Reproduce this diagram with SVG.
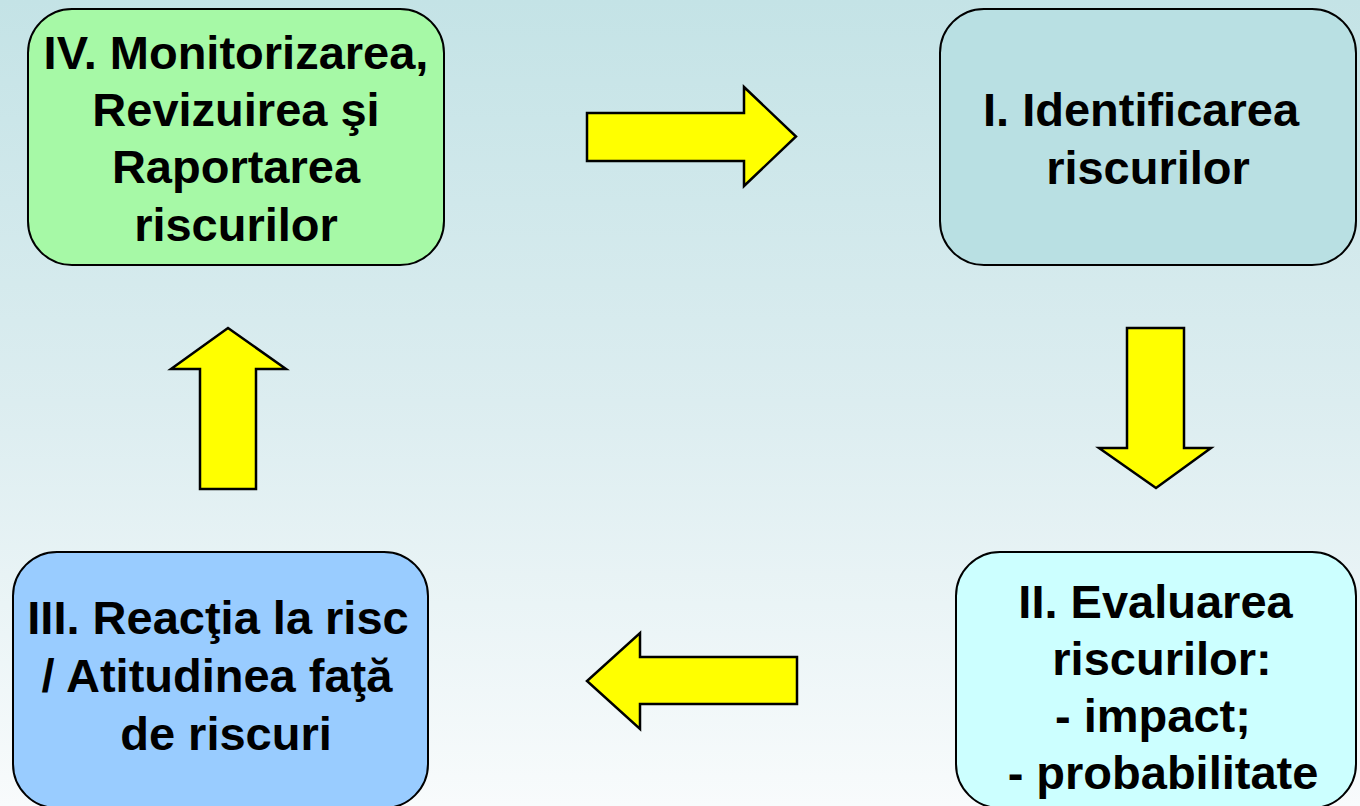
<svg xmlns="http://www.w3.org/2000/svg" width="1360" height="806" viewBox="0 0 1360 806">
<defs>
<linearGradient id="bg" x1="0" y1="0" x2="0" y2="1">
<stop offset="0" stop-color="#c4e3e6"/>
<stop offset="0.5" stop-color="#dcedf0"/>
<stop offset="1" stop-color="#f8fbfc"/>
</linearGradient>
<style>
.box{stroke:#000;stroke-width:2}
.arrow{fill:#ffff00;stroke:#000;stroke-width:2.5;stroke-linejoin:miter}
.t{font-family:"Liberation Sans",Arial,sans-serif;font-weight:bold;font-size:47px;fill:#000;text-anchor:middle}
</style>
</defs>
<rect width="1360" height="806" fill="url(#bg)"/>
<g id="connectors">
<path class="arrow" d="M587,113 H744 V87 L796,136.5 L744,186 V161 H587 Z"/>
<path class="arrow" d="M1127,328 H1184 V448 H1211 L1156,488 L1099,448 H1127 Z"/>
<path class="arrow" d="M797,657 H640 V633 L587,681 L640,729 V704 H797 Z"/>
<path class="arrow" d="M200,489 V369 H171 L228,328 L286,369 H256 V489 Z"/>
</g>
<g id="node-iv">
<rect class="box" x="28" y="9" width="416" height="256" rx="44" fill="#a6f9a6"/>
<text class="t" x="236" y="69">IV. Monitorizarea,</text>
<text class="t" x="236" y="125.5">Revizuirea şi</text>
<text class="t" x="236" y="183">Raportarea</text>
<text class="t" x="236" y="240.5">riscurilor</text>
</g>
<g id="node-i">
<rect class="box" x="940" y="9" width="416" height="256" rx="44" fill="#b9e0e3"/>
<text class="t" x="1141" y="126">I. Identificarea</text>
<text class="t" x="1148" y="184">riscurilor</text>
</g>
<g id="node-ii">
<rect class="box" x="956" y="552" width="400" height="256" rx="44" fill="#ccffff"/>
<text class="t" x="1155.5" y="618">II. Evaluarea</text>
<text class="t" x="1162" y="675">riscurilor:</text>
<text class="t" x="1153" y="732">- impact;</text>
<text class="t" x="1163" y="789">- probabilitate</text>
</g>
<g id="node-iii">
<rect class="box" x="13" y="552" width="415" height="256" rx="44" fill="#99ccff"/>
<text class="t" x="218" y="634">III. Reacţia la risc</text>
<text class="t" x="217" y="692">/ Atitudinea faţă</text>
<text class="t" x="226" y="750">de riscuri</text>
</g>
</svg>
